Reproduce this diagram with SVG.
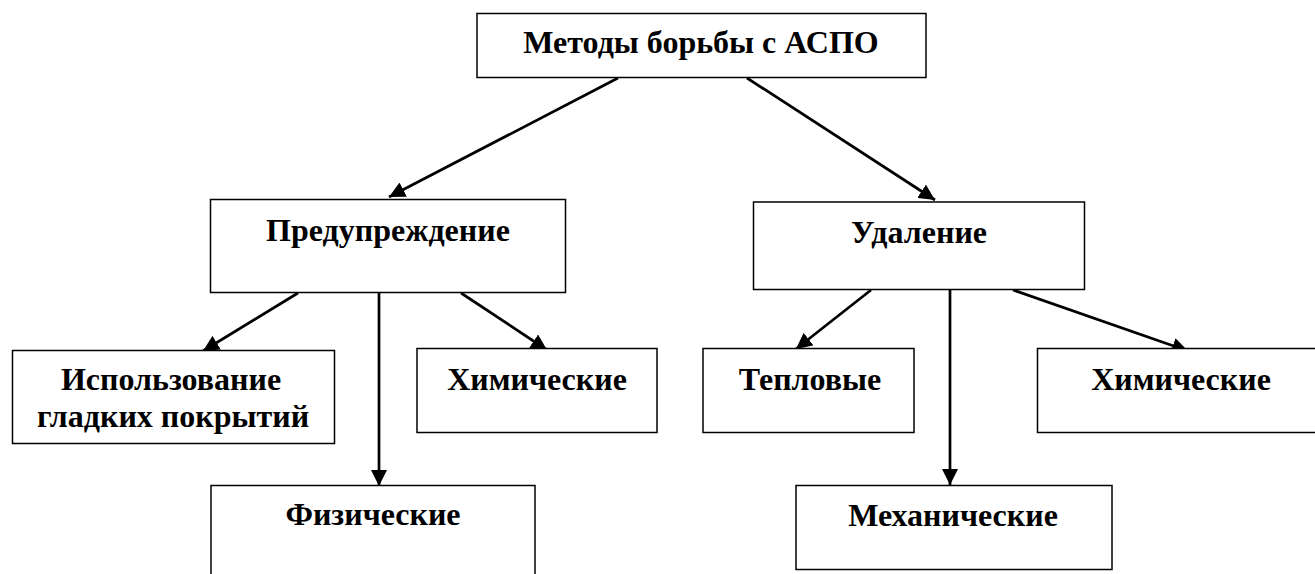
<svg xmlns="http://www.w3.org/2000/svg" width="1315" height="574" viewBox="0 0 1315 574">
<style>
.box{fill:#fff;stroke:#000;stroke-width:1.5}
.lbl{font-family:"Liberation Serif","Times New Roman",serif;font-weight:bold;font-size:32px;fill:#000;text-anchor:middle}
.con{stroke:#000;stroke-width:2.7;fill:none;marker-end:url(#ah)}
</style>
<defs>
<marker id="ah" markerUnits="userSpaceOnUse" markerWidth="18" markerHeight="16" refX="16" refY="8" orient="auto">
<path d="M0,0 L16,8 L0,16 z" fill="#000"/>
</marker>
</defs>
<rect width="1315" height="574" fill="#fff"/>
<g id="connectors">
<line class="con" x1="618" y1="78" x2="389" y2="197"/>
<line class="con" x1="747" y1="78" x2="935" y2="200"/>
<line class="con" x1="298" y1="293" x2="203" y2="351"/>
<line class="con" x1="379" y1="293" x2="379" y2="486"/>
<line class="con" x1="461" y1="293" x2="547" y2="350"/>
<line class="con" x1="871" y1="290" x2="796" y2="349"/>
<line class="con" x1="950" y1="290" x2="950" y2="485"/>
<line class="con" x1="1013" y1="290" x2="1188" y2="351"/>
</g>
<g id="root">
<rect class="box" x="477" y="13.5" width="449" height="64"/>
<text class="lbl" x="701" y="53">Методы борьбы с АСПО</text>
</g>
<g id="prevention">
<rect class="box" x="210.5" y="199.5" width="355" height="93"/>
<text class="lbl" x="388" y="241">Предупреждение</text>
</g>
<g id="removal">
<rect class="box" x="753.5" y="202" width="331" height="87.5"/>
<text class="lbl" x="919" y="243">Удаление</text>
</g>
<g id="smooth">
<rect class="box" x="12.5" y="350.5" width="322" height="93"/>
<text class="lbl" x="171" y="390">Использование</text>
<text class="lbl" x="173" y="427">гладких покрытий</text>
</g>
<g id="chem-left">
<rect class="box" x="417" y="348.5" width="240" height="84"/>
<text class="lbl" x="537" y="390">Химические</text>
</g>
<g id="physical">
<rect class="box" x="211" y="485.5" width="324" height="100"/>
<text class="lbl" x="373" y="525">Физические</text>
</g>
<g id="thermal">
<rect class="box" x="703" y="348.5" width="211" height="84"/>
<text class="lbl" x="810" y="390">Тепловые</text>
</g>
<g id="chem-right">
<rect class="box" x="1037.5" y="348.5" width="290" height="84"/>
<text class="lbl" x="1181" y="390">Химические</text>
</g>
<g id="mechanical">
<rect class="box" x="796" y="485.5" width="316" height="84"/>
<text class="lbl" x="953" y="526">Механические</text>
</g>
</svg>
